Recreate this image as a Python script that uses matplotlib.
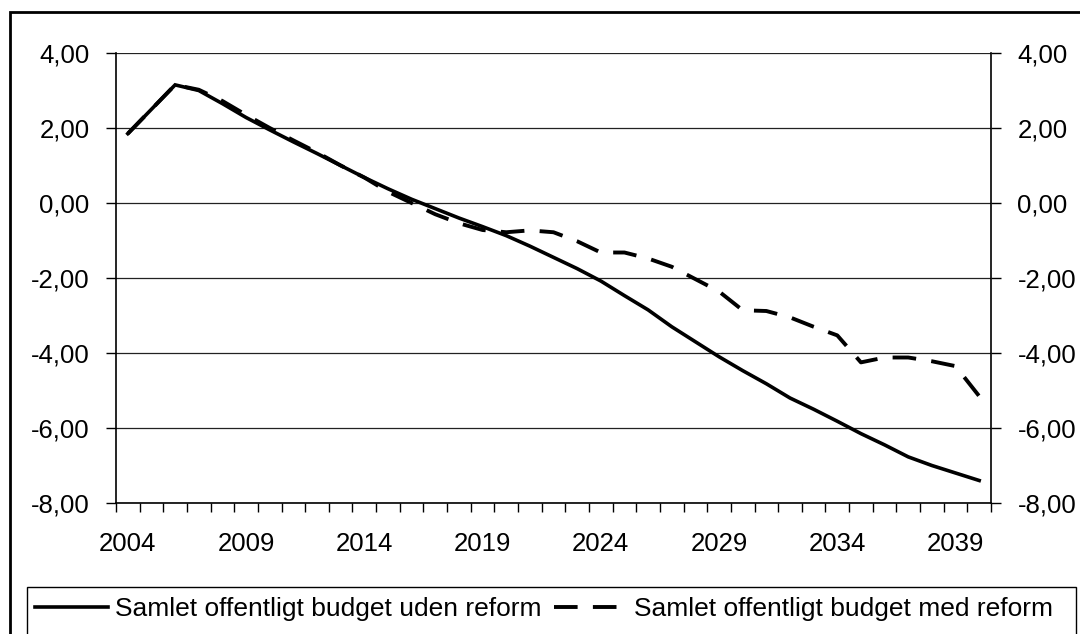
import numpy as np
import matplotlib
matplotlib.use('Agg')
import matplotlib.pyplot as plt
from matplotlib.patches import Rectangle
from matplotlib.ticker import FuncFormatter, FixedLocator

plt.rcParams['font.family'] = ['Liberation Sans', 'DejaVu Sans']
plt.rcParams['lines.scale_dashes'] = False

# ─── Data ───
years = np.arange(2004, 2041)
uden_reform = [1.85, 2.50, 3.15, 3.00, 2.65, 2.28, 1.95, 1.63, 1.32, 1.00,
               0.68, 0.38, 0.10, -0.15, -0.40, -0.63, -0.87, -1.15, -1.45, -1.75,
               -2.08, -2.47, -2.85, -3.30, -3.70, -4.10, -4.47, -4.82, -5.20, -5.50,
               -5.82, -6.15, -6.45, -6.77, -7.00, -7.20, -7.40]
med_reform = [1.85, 2.50, 3.15, 3.02, 2.72, 2.35, 2.00, 1.67, 1.35, 1.00,
              0.68, 0.30, 0.00, -0.30, -0.54, -0.72, -0.78, -0.73, -0.78, -1.02,
              -1.32, -1.32, -1.48, -1.70, -2.03, -2.36, -2.86, -2.88, -3.05, -3.30,
              -3.53, -4.25, -4.12, -4.12, -4.22, -4.35, -5.15]
label_years = [2004, 2009, 2014, 2019, 2024, 2029, 2034, 2039]
y_ticks = [4, 2, 0, -2, -4, -6, -8]
series_labels = ['Samlet offentligt budget uden reform',
                 'Samlet offentligt budget med reform']

FS = 18.5
W, H = 1080, 634
fig = plt.figure(figsize=(W / 100, H / 100), dpi=100)
ax = fig.add_axes([116 / W, 1 - 503 / H, (991 - 116) / W, (503 - 53) / H])

ax.plot(years, uden_reform, color='black', lw=2.6, solid_joinstyle='miter',
        label=series_labels[0], zorder=4)
ax.plot(years, med_reform, color='black', lw=2.8, dashes=(17, 11),
        label=series_labels[1], zorder=3)

ax.set_xlim(years[0] - 0.5, years[-1] + 0.5)
ax.set_ylim(-8, 4)

# y axis on both sides, comma decimals
fmt = FuncFormatter(lambda v, p: f'{v:.2f}'.replace('.', ','))
ax.yaxis.set_major_locator(FixedLocator(y_ticks))
ax.yaxis.set_major_formatter(fmt)
ax.tick_params(axis='y', which='major', left=True, right=True,
               labelleft=True, labelright=True, direction='out',
               length=7, width=1, pad=12, labelsize=FS, colors='black')
ax.grid(True, axis='y', color='#222222', lw=0.9)

# category axis: tick marks between years, labels every 5 years
ax.xaxis.set_major_locator(FixedLocator(label_years))
ax.xaxis.set_minor_locator(FixedLocator(np.append(years - 0.5, years[-1] + 0.5)))
ax.tick_params(axis='x', which='major', length=0, pad=21, labelsize=FS)
ax.tick_params(axis='x', which='minor', length=6.5, width=1, direction='out')

for s in ['left', 'right', 'bottom']:
    ax.spines[s].set_color('black')
    ax.spines[s].set_linewidth(1.2)
ax.spines['top'].set_visible(False)
ax.set_axisbelow(True)

# outer chart frame and legend frame
fig.patches.append(Rectangle((10 / W, -0.1), 1.2, 1 - 12 / H + 0.1, fill=False,
                             lw=2, edgecolor='black', transform=fig.transFigure))
fig.patches.append(Rectangle((27 / W, -0.1), (1076 - 27) / W, 0.1 + 1 - 587 / H,
                             fill=False, lw=1.0, edgecolor='black',
                             transform=fig.transFigure))

fig.legend(loc='center left', bbox_to_anchor=(35 / W, 1 - 609 / H),
           ncol=2, fontsize=19, frameon=False, borderaxespad=0, borderpad=0,
           handlelength=2.75, handletextpad=0.3, columnspacing=0.45)

fig.savefig('out.png', dpi=100)
